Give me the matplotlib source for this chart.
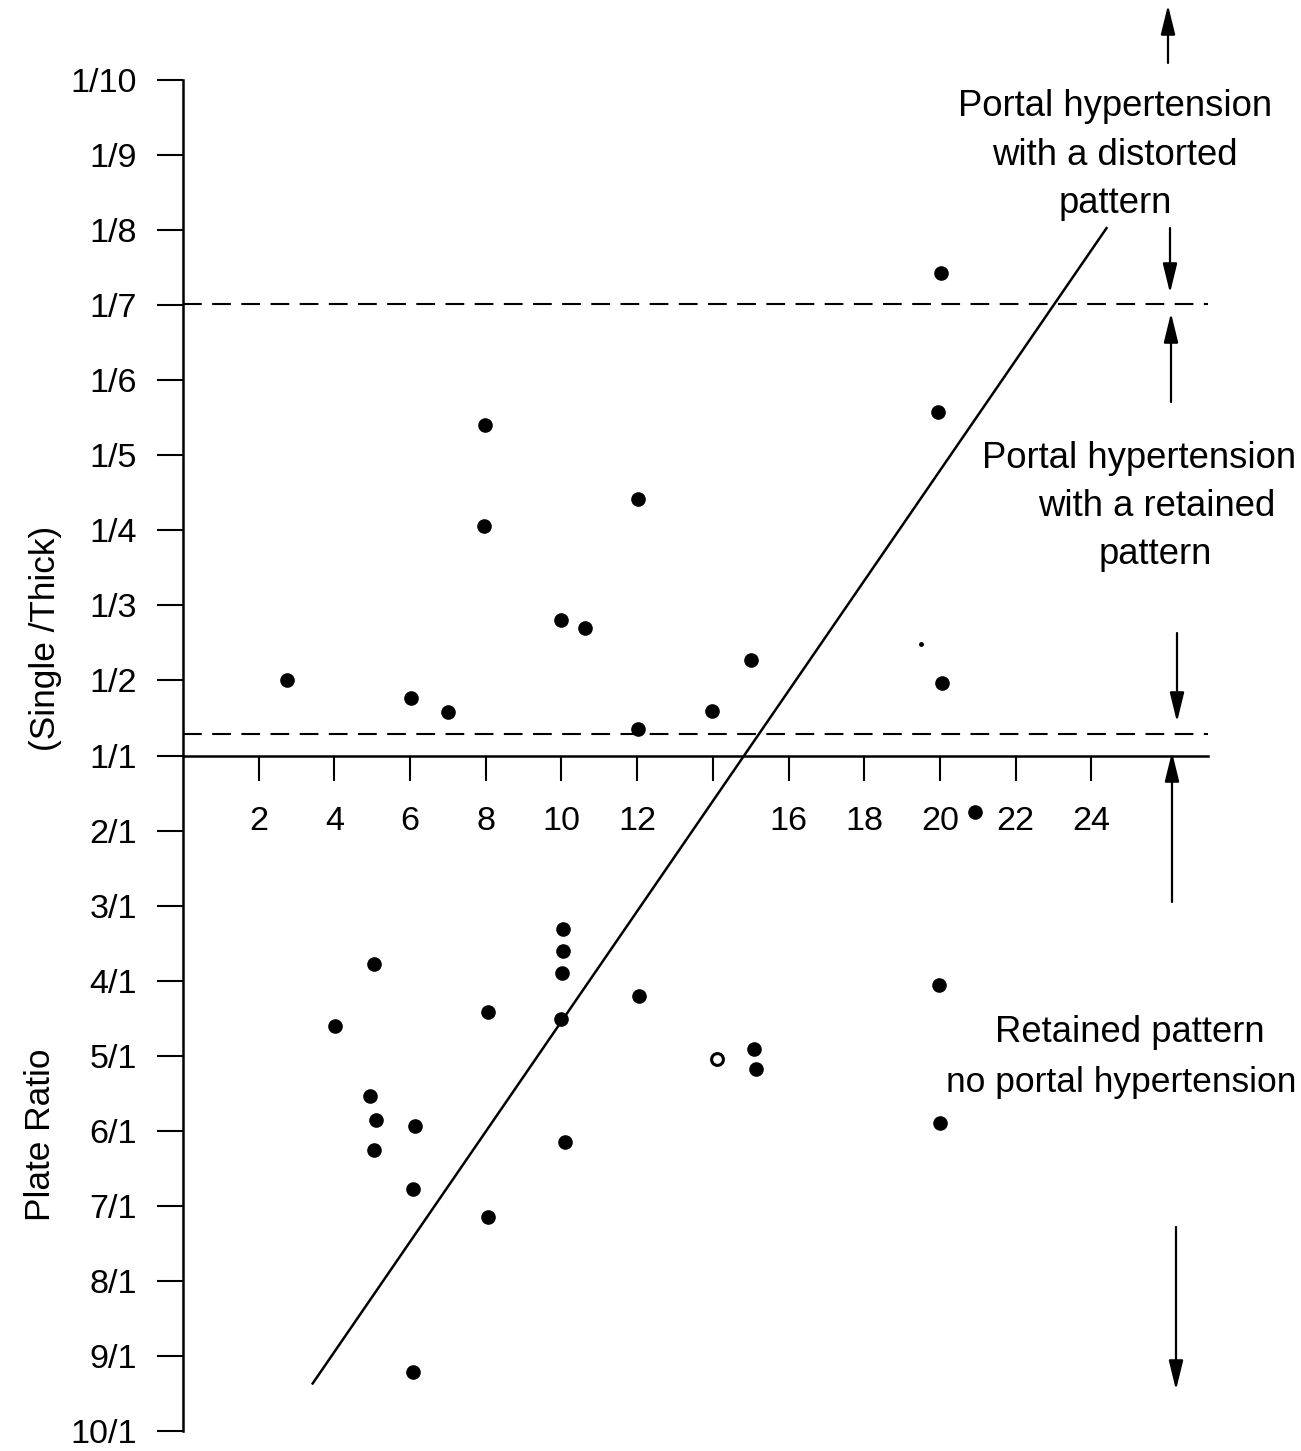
import matplotlib
matplotlib.use("Agg")
import matplotlib.pyplot as plt
from matplotlib import font_manager

# ---------------- data ----------------
# y scale: 1/n -> n-1 (upper half), n/1 -> -(n-1) (lower half)
y_tick_values = [9, 8, 7, 6, 5, 4, 3, 2, 1, 0, -1, -2, -3, -4, -5, -6, -7, -8, -9]
y_tick_labels = ["1/10", "1/9", "1/8", "1/7", "1/6", "1/5", "1/4", "1/3", "1/2", "1/1",
                 "2/1", "3/1", "4/1", "5/1", "6/1", "7/1", "8/1", "9/1", "10/1"]
x_tick_values = [2, 4, 6, 8, 10, 12, 14, 16, 18, 20, 22, 24]
x_tick_labels = ["2", "4", "6", "8", "10", "12", "", "16", "18", "20", "22", "24"]

filled_x = [20.03, 19.95, 7.98, 12.02, 7.95, 9.99, 10.62, 15.01, 2.75, 20.05, 6.03, 7.00,
            13.98, 12.02,
            20.93, 10.04, 10.04, 10.01, 5.05, 19.98, 12.05, 8.06, 9.99, 4.02, 15.09, 15.14,
            4.94, 5.10, 6.13, 20.0, 10.09, 5.05, 6.08, 8.06, 6.08]
filled_y = [6.43, 4.58, 4.40, 3.42, 3.06, 1.80, 1.70, 1.27, 1.00, 0.96, 0.76, 0.58,
            0.59, 0.35,
            -0.75, -2.31, -2.61, -2.90, -2.78, -3.06, -3.20, -3.42, -3.51, -3.60, -3.91, -4.18,
            -4.54, -4.85, -4.94, -4.90, -5.15, -5.26, -5.78, -6.15, -8.22]
open_x = [14.11]
open_y = [-4.04]
speck_x = [19.5]
speck_y = [1.49]

diag_x = [3.41, 24.42]
diag_y = [-8.38, 7.04]
upper_dash_y = 6.02
lower_dash_y = 0.285
axis_x_end = 27.08

# ---------------- fonts ----------------
_names = {f.name for f in font_manager.fontManager.ttflist}
if "Liberation Sans Narrow" in _names:
    FONT, SC = "Liberation Sans Narrow", 1.0
else:
    FONT, SC = "Liberation Sans", 0.82
plt.rcParams["font.family"] = [FONT, "DejaVu Sans"]

W, H = 1301, 1451

# ---------------- figure ----------------
fig = plt.figure(figsize=(W / 100, H / 100), dpi=100)
ax = fig.add_axes([0, 0, 1, 1])
ax.set_xlim(-4.832, 29.54)
ax.set_ylim(-9.266, 10.066)

for s in ["top", "right"]:
    ax.spines[s].set_visible(False)
ax.spines["left"].set_position(("data", 0))
ax.spines["bottom"].set_position(("data", 0))
ax.spines["left"].set_bounds(-9, 9)
ax.spines["bottom"].set_bounds(0, axis_x_end)
for s in ["left", "bottom"]:
    ax.spines[s].set_linewidth(1.8)

ax.set_yticks(y_tick_values)
ax.set_yticklabels(y_tick_labels)
ax.set_xticks(x_tick_values)
ax.set_xticklabels(x_tick_labels)
ax.tick_params(axis="y", direction="out", length=19, width=1.5, pad=14,
               labelsize=30 * SC)
ax.tick_params(axis="x", direction="out", length=18, width=1.5, pad=18,
               labelsize=30 * SC)

# reference lines
ax.plot([0, axis_x_end], [upper_dash_y, upper_dash_y], color="black", lw=1.5,
        dashes=(9, 5))
ax.plot([0, axis_x_end], [lower_dash_y, lower_dash_y], color="black", lw=1.5,
        dashes=(9, 5))
ax.plot(diag_x, diag_y, color="black", lw=1.8, solid_capstyle="butt")

# data points
ax.plot(filled_x, filled_y, "o", color="black", ms=9.5, ls="none")
ax.plot(open_x, open_y, "o", mfc="white", mec="black", mew=2.2, ms=8.5, ls="none")
ax.plot(speck_x, speck_y, "o", color="black", ms=2.5, ls="none")

# ---------------- annotations (placed in figure pixels of the layout) ----------------
def fx(px):
    return px / W

def fy(py):
    return 1 - py / H

LFS = 31 * SC
fig.text(fx(40), fy(1135), "Plate Ratio", rotation=90, ha="center", va="center",
         fontsize=LFS)
fig.text(fx(46), fy(638), "(Single /Thick)", rotation=90, ha="center", va="center",
         fontsize=LFS)

TFS = 32 * SC
fig.text(fx(1115), fy(116), "Portal hypertension", ha="center", va="baseline", fontsize=TFS)
fig.text(fx(1115), fy(165), "with a distorted", ha="center", va="baseline", fontsize=TFS)
fig.text(fx(1115), fy(213), "pattern", ha="center", va="baseline", fontsize=TFS)

fig.text(fx(1296), fy(468), "Portal hypertension", ha="right", va="baseline", fontsize=TFS)
fig.text(fx(1157), fy(516), "with a retained", ha="center", va="baseline", fontsize=TFS)
fig.text(fx(1155), fy(564), "pattern", ha="center", va="baseline", fontsize=TFS)

fig.text(fx(1130), fy(1042), "Retained pattern", ha="center", va="baseline", fontsize=TFS)
fig.text(fx(1296), fy(1092), "no portal hypertension", ha="right", va="baseline",
         fontsize=TFS * 0.97)

# arrows (x, tail y, head y) in layout pixels
arrows = [(1168, 63, 5), (1170, 228, 293), (1171, 402, 313),
          (1177, 633, 722), (1172, 902, 752), (1176, 1227, 1390)]
for axp, ty, hy in arrows:
    ax.annotate("", xy=(fx(axp), fy(hy)), xytext=(fx(axp), fy(ty)),
                xycoords="figure fraction", textcoords="figure fraction",
                arrowprops=dict(arrowstyle="-|>,head_length=0.9,head_width=0.22",
                                mutation_scale=20, lw=1.6, color="black",
                                shrinkA=0, shrinkB=0),
                annotation_clip=False)

fig.savefig("out.png", dpi=100)
